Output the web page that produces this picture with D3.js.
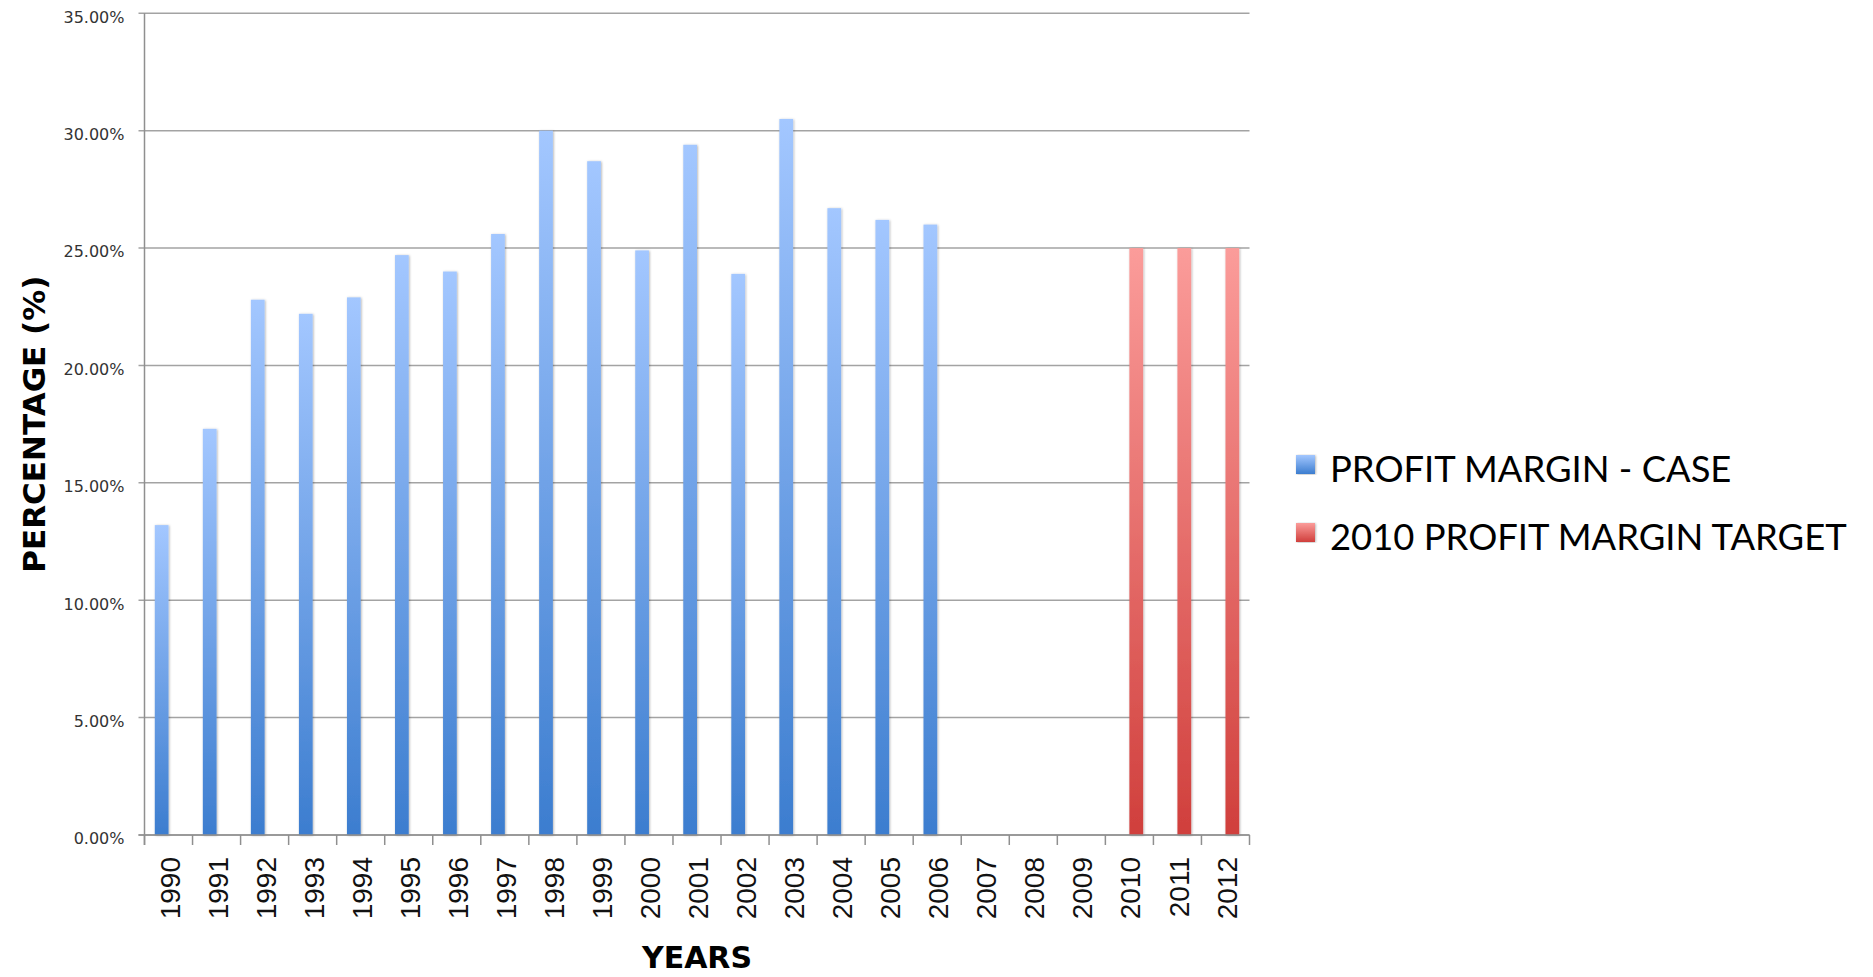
<!DOCTYPE html>
<html>
<head>
<meta charset="utf-8">
<script src="https://cdn.jsdelivr.net/npm/d3@7"></script>
<style>
  html, body { margin: 0; padding: 0; background: #ffffff; }
  svg { display: block; }
</style>
</head>
<body>
<script>
// ---- data ----
const years = ["1990","1991","1992","1993","1994","1995","1996","1997","1998","1999","2000","2001","2002","2003","2004","2005","2006","2007","2008","2009","2010","2011","2012"];
const caseValues = [13.2, 17.3, 22.8, 22.2, 22.9, 24.7, 24.0, 25.6, 30.0, 28.7, 24.9, 29.4, 23.9, 30.5, 26.7, 26.2, 26.0, null, null, null, null, null, null];
const targetValues = [null, null, null, null, null, null, null, null, null, null, null, null, null, null, null, null, null, null, null, null, 25.0, 25.0, 25.0];
const seriesNames = ["PROFIT MARGIN - CASE", "2010 PROFIT MARGIN TARGET"];
const yTicks = [0, 5, 10, 15, 20, 25, 30, 35];

// ---- layout ----
const W = 1873, H = 977;
const plot = { left: 144.5, right: 1249.5, top: 13.3, bottom: 835 };

const svg = d3.select("body").append("svg").attr("width", W).attr("height", H);
const defs = svg.append("defs");

function grad(id, top, bottom) {
  const g = defs.append("linearGradient").attr("id", id)
    .attr("x1", 0).attr("y1", 0).attr("x2", 0).attr("y2", 1);
  g.append("stop").attr("offset", "0%").attr("stop-color", top);
  g.append("stop").attr("offset", "100%").attr("stop-color", bottom);
}
grad("gBlue", "#a3c7ff", "#3c7dcf");
grad("gRed", "#fb9c9a", "#d03f3c");

const f = defs.append("filter").attr("id", "shadow")
  .attr("x", "-30%").attr("y", "-5%").attr("width", "160%").attr("height", "110%");
f.append("feDropShadow").attr("dx", 0.8).attr("dy", 0.5).attr("stdDeviation", 1.2)
  .attr("flood-color", "#000").attr("flood-opacity", 0.3);

// ---- scales ----
const x = d3.scaleBand().domain(years).range([plot.left, plot.right]).padding(0);
const xSub = d3.scaleBand().domain(seriesNames).range([0, x.bandwidth()])
  .paddingInner(0).paddingOuter(0.75);
const y = d3.scaleLinear().domain([0, 35]).range([plot.bottom, plot.top]);

// ---- gridlines ----
svg.append("g").selectAll("line").data(yTicks).join("line")
  .attr("x1", plot.left - 6).attr("x2", plot.right)
  .attr("y1", d => y(d)).attr("y2", d => y(d))
  .attr("stroke", "#a3a3a3").attr("stroke-width", 1.5);

// ---- y axis labels ----
const yAxis = d3.axisLeft(y).tickValues(yTicks).tickSize(0).tickPadding(20)
  .tickFormat(d => d.toFixed(2) + "%");
const gy = svg.append("g").attr("transform", `translate(${plot.left},0)`).call(yAxis);
gy.select(".domain").remove();
gy.selectAll("text")
  .attr("font-family", "DejaVu Sans").attr("font-size", 16).attr("fill", "#333")
  .attr("dy", "0.55em");

// ---- bars ----
const series = [
  { name: seriesNames[0], values: caseValues, fill: "url(#gBlue)" },
  { name: seriesNames[1], values: targetValues, fill: "url(#gRed)" }
];
series.forEach(s => {
  const data = years.map((yr, i) => ({ yr, v: s.values[i] })).filter(d => d.v != null);
  svg.append("g").selectAll("rect").data(data).join("rect")
    .attr("x", d => x(d.yr) + xSub(s.name))
    .attr("width", xSub.bandwidth())
    .attr("y", d => y(d.v))
    .attr("height", d => y(0) - y(d.v))
    .attr("fill", s.fill)
    .attr("filter", "url(#shadow)");
});

// ---- axes lines ----
svg.append("line")
  .attr("x1", plot.left).attr("x2", plot.left)
  .attr("y1", plot.top).attr("y2", plot.bottom + 10)
  .attr("stroke", "#8f8f8f").attr("stroke-width", 1.5);
svg.append("line")
  .attr("x1", plot.left - 6).attr("x2", plot.right)
  .attr("y1", plot.bottom).attr("y2", plot.bottom)
  .attr("stroke", "#8f8f8f").attr("stroke-width", 1.5);
// category boundary ticks
const bounds = years.map(d => x(d)).concat([x(years[years.length - 1]) + x.bandwidth()]);
svg.append("g").selectAll("line").data(bounds).join("line")
  .attr("x1", d => d).attr("x2", d => d)
  .attr("y1", plot.bottom).attr("y2", plot.bottom + 10)
  .attr("stroke", "#8f8f8f").attr("stroke-width", 1.5);

// ---- x labels ----
const xAxis = d3.axisBottom(x).tickSize(0);
const gx = svg.append("g").attr("transform", `translate(0,${plot.bottom})`).call(xAxis);
gx.select(".domain").remove();
gx.selectAll(".tick text")
  .attr("font-family", "Liberation Sans").attr("font-size", 28).attr("fill", "#111")
  .attr("text-anchor", "end")
  .attr("y", 0).attr("x", 0)
  .attr("dy", "0.36em")
  .attr("transform", "translate(1,22) rotate(-90)");

// ---- axis titles ----
svg.append("text")
  .attr("x", (plot.left + plot.right) / 2).attr("y", 968)
  .attr("text-anchor", "middle")
  .attr("font-family", "DejaVu Sans").attr("font-weight", "bold").attr("font-size", 30)
  .attr("fill", "#000").text("YEARS");
svg.append("text")
  .attr("transform", `translate(45,${(plot.top + plot.bottom) / 2}) rotate(-90)`)
  .attr("text-anchor", "middle")
  .attr("font-family", "DejaVu Sans").attr("font-weight", "bold").attr("font-size", 31)
  .attr("fill", "#000").text("PERCENTAGE (%)");

// ---- legend ----
const legend = svg.append("g");
const legRows = [
  { name: seriesNames[0], fill: "url(#gBlue)", top: 455, base: 482 },
  { name: seriesNames[1], fill: "url(#gRed)", top: 523, base: 550 }
];
legRows.forEach(r => {
  legend.append("rect").attr("x", 1296).attr("y", r.top).attr("width", 19).attr("height", 19)
    .attr("fill", r.fill).attr("filter", "url(#shadow)");
  legend.append("text").attr("x", 1330).attr("y", r.base)
    .attr("font-family", "Lato").attr("font-size", 36.4).attr("fill", "#000")
    .text(r.name);
});
</script>
</body>
</html>
